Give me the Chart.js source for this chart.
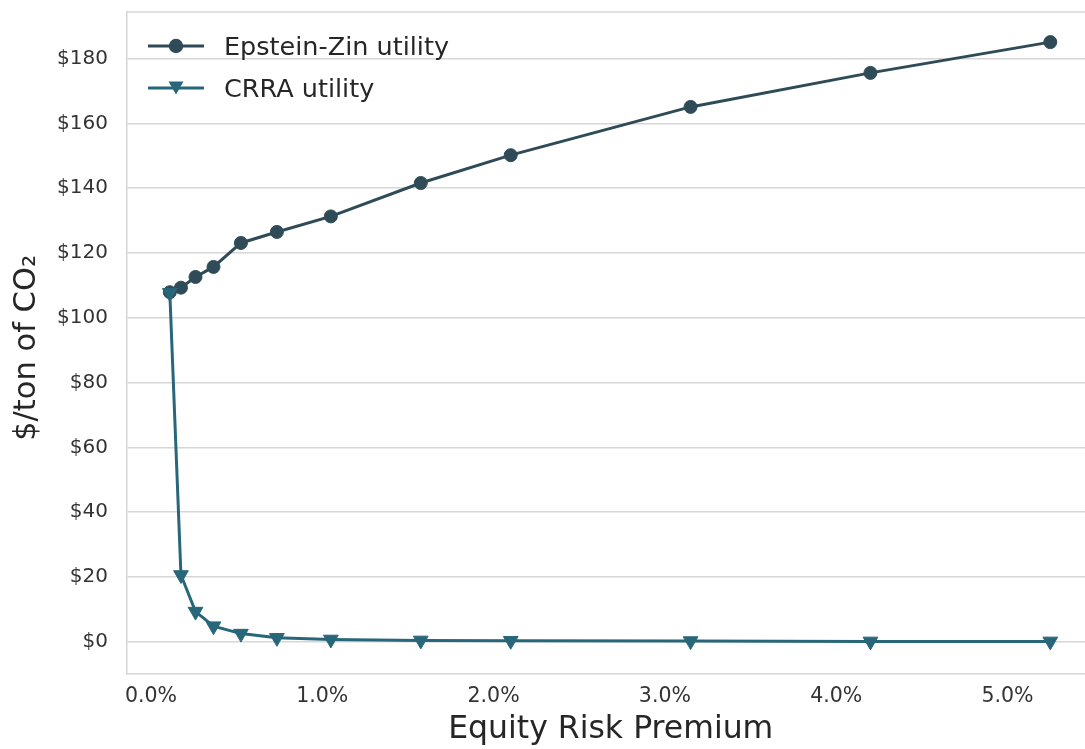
<!DOCTYPE html>
<html>
<head>
<meta charset="utf-8">
<script src="https://cdn.jsdelivr.net/npm/chart.js@4.4.1/dist/chart.umd.min.js"></script>
<style>
  html, body { margin: 0; padding: 0; background: #fff; overflow: hidden; }
  html { width: 1085px; height: 749px; }
  body { width: 1104px; height: 749px; }
  #wrap { position: relative; width: 1104px; height: 749px; }
  #c { position: absolute; left: 0; top: 0; width: 1104px; height: 749px; }
  #legend { position: absolute; left: 147px; top: 25px; font-family: "DejaVu Sans", sans-serif; font-size: 25.5px; color: #262626; }
  .row { display: flex; align-items: center; height: 42px; }
  .row svg { width: 58px; height: 22px; margin-right: 19px; }
</style>
</head>
<body>
<div id="wrap">
  <canvas id="c" width="1104" height="749"></canvas>
  <div id="legend"></div>
</div>
<script>
// Data
const erpPercent = [0.11, 0.175, 0.26, 0.365, 0.525, 0.735, 1.05, 1.575, 2.1, 3.15, 4.2, 5.25];
const epsteinZin = [107.9, 109.3, 112.6, 115.7, 123.1, 126.5, 131.3, 141.6, 150.2, 165.1, 175.6, 185.1];
const crraUtility = [107.7, 20.6, 9.3, 4.8, 2.5, 1.2, 0.7, 0.4, 0.3, 0.2, 0.1, 0.1];
const seriesNames = ["Epstein-Zin utility", "CRRA utility"];
const xTickValues = [0, 1, 2, 3, 4, 5];
const yTickValues = [0, 20, 40, 60, 80, 100, 120, 140, 160, 180];

const colorEZ = "#2e4b57";
const colorCRRA = "#28667a";

const toPts = (xs, ys) => xs.map((x, i) => ({ x: x, y: ys[i] }));

Chart.defaults.font.family = "'DejaVu Sans', sans-serif";

const topBorder = {
  id: "topBorder",
  afterDraw(chart) {
    const { ctx, chartArea } = chart;
    ctx.save();
    ctx.strokeStyle = "#d6d6d6";
    ctx.lineWidth = 1.5;
    ctx.beginPath();
    ctx.moveTo(chartArea.left, chartArea.top);
    ctx.lineTo(chartArea.right, chartArea.top);
    ctx.stroke();
    ctx.restore();
  }
};

new Chart(document.getElementById("c"), {
  type: "line",
  data: {
    datasets: [
      {
        label: seriesNames[0],
        data: toPts(erpPercent, epsteinZin),
        borderColor: colorEZ,
        backgroundColor: colorEZ,
        borderWidth: 3,
        pointStyle: "circle",
        pointRadius: 6.5,
        pointBorderWidth: 1,
        pointBackgroundColor: colorEZ,
        pointBorderColor: colorEZ,
        tension: 0,
        order: 1
      },
      {
        label: seriesNames[1],
        data: toPts(erpPercent, crraUtility),
        borderColor: colorCRRA,
        backgroundColor: colorCRRA,
        borderWidth: 3,
        pointStyle: "triangle",
        pointRotation: 180,
        pointRadius: 8.5,
        pointBorderWidth: 1,
        pointBackgroundColor: colorCRRA,
        pointBorderColor: colorCRRA,
        tension: 0,
        order: 0
      }
    ]
  },
  options: {
    responsive: false,
    animation: false,
    devicePixelRatio: 1,
    layout: { padding: { top: 12, left: 0, right: 0, bottom: 0 } },
    plugins: { legend: { display: false }, tooltip: { enabled: false } },
    scales: {
      x: {
        type: "linear",
        min: -0.140,
        max: 5.508,
        afterBuildTicks: (s) => { s.ticks = xTickValues.map(v => ({ value: v })); },
        afterFit: (s) => { s.height = 75; s.paddingLeft = 0; s.paddingRight = 0; },
        grid: { display: false, drawTicks: false },
        border: { display: true, color: "#d6d6d6", width: 1.5 },
        ticks: {
          color: "#333333",
          font: { size: 20.5 },
          padding: 10,
          maxRotation: 0,
          callback: (v) => v.toFixed(1) + "%"
        },
        title: {
          display: true,
          text: "Equity Risk Premium",
          color: "#262626",
          font: { size: 31.5 },
          padding: { top: 0, bottom: 0 }
        }
      },
      y: {
        type: "linear",
        min: -9.97,
        max: 194.4,
        afterBuildTicks: (s) => { s.ticks = yTickValues.map(v => ({ value: v })); },
        afterFit: (s) => { s.width = 127; s.paddingTop = 0; s.paddingBottom = 0; },
        grid: { color: "#d6d6d6", lineWidth: 1.5, drawTicks: false },
        border: { display: true, color: "#d6d6d6", width: 1.5 },
        ticks: {
          color: "#333333",
          font: { size: 20 },
          padding: 19,
          callback: (v) => "$" + v
        },
        title: {
          display: true,
          text: "$/ton of CO\u2082 ",
          color: "#262626",
          font: { size: 30.5 },
          padding: { top: 9, bottom: 0 }
        }
      }
    }
  },
  plugins: [topBorder]
});

// HTML legend (line with marker in the middle, as in the reference)
const legend = document.getElementById("legend");
const markers = [
  (c) => `<circle cx="29" cy="11" r="7.2" fill="${c}"/>`,
  (c) => `<polygon points="21.5,4.5 36.5,4.5 29,17.5" fill="${c}"/>`
];
[colorEZ, colorCRRA].forEach((c, i) => {
  const row = document.createElement("div");
  row.className = "row";
  row.innerHTML = `<svg viewBox="0 0 58 22"><line x1="1" y1="11" x2="57" y2="11" stroke="${c}" stroke-width="3"/>${markers[i](c)}</svg><span>${seriesNames[i]}</span>`;
  legend.appendChild(row);
});
</script>
</body>
</html>
